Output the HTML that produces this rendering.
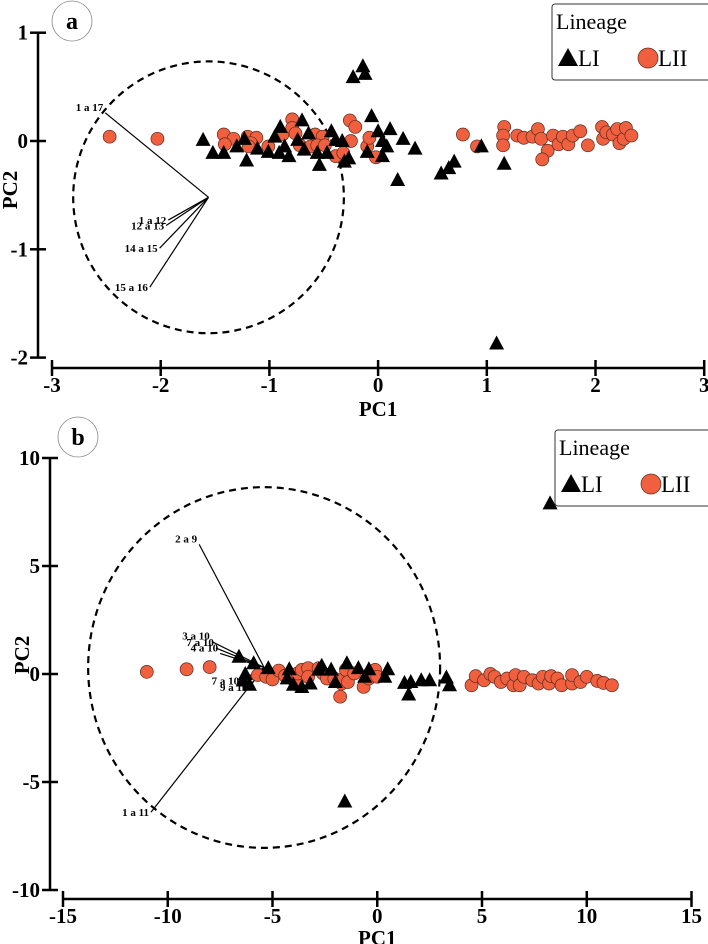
<!DOCTYPE html>
<html><head><meta charset="utf-8"><style>
html,body{margin:0;padding:0;background:#fff;}
svg{display:block;font-family:"Liberation Serif",serif;}
</style></head><body>
<svg id="chart" width="708" height="944" viewBox="0 0 708 944"></svg>
<script>
// ---------- Panel a data ----------
const aTicksX = [-3,-2,-1,0,1,2,3];
const aTicksY = [1,0,-1,-2];
const aLI_x = [-0.14,-0.23,-0.12,-0.06,0.11,0,0.23,0.34,0.08,0.04,0.04,-0.9,-0.7,-0.95,-1.61,-1.52,-1.42,-1.3,-1.21,-1.23,-1.11,-1.01,-0.91,-0.82,-0.86,-0.74,-0.68,-0.56,-0.54,-0.47,-0.43,-0.39,-0.33,-0.31,-0.27,-0.64,-0.1,0.18,0.58,0.65,0.7,0.95,1.16,1.09];
const aLI_y = [0.69,0.59,0.62,0.23,0.11,0.09,0.02,-0.07,-0.05,0,-0.14,0.13,0.19,0.04,0.01,-0.11,-0.11,-0.05,-0.18,0.02,-0.07,-0.1,-0.11,-0.14,-0.05,0.01,-0.08,-0.11,-0.22,-0.11,0.09,0.01,0,-0.19,-0.16,0.07,-0.1,-0.36,-0.3,-0.25,-0.19,-0.05,-0.21,-1.87];
const aLII_x = [-2.47,-2.03,-1.42,-1.33,-1.41,-1.2,-1.12,-1.17,-1.19,-1.01,-0.88,-0.79,-0.79,-0.76,-0.72,-0.62,-0.58,-0.51,-0.56,-0.49,-0.39,-0.32,-0.26,-0.21,-0.25,-0.1,-0.08,-0.02,0.78,0.91,1.16,1.15,1.15,1.28,1.34,1.42,1.47,1.5,1.56,1.51,1.61,1.66,1.7,1.75,1.79,1.86,1.93,2.06,2.07,2.1,2.16,2.2,2.22,2.26,2.28,2.33];
const aLII_y = [0.04,0.02,0.06,0.02,-0.03,0.04,0.03,-0.02,-0.05,-0.05,0.06,0.2,0.12,0.07,-0.04,-0.05,0.06,0.04,-0.04,-0.04,-0.14,-0.11,0.19,0.13,0,-0.05,0.03,-0.15,0.06,-0.05,0.13,0.05,-0.04,0.05,0.03,0.04,0.11,0.02,-0.09,-0.17,0.05,-0.03,0.04,-0.03,0.05,0.09,-0.04,0.13,0.02,0.08,0.06,0.11,-0.02,0.02,0.12,0.05];
const aVecLabels = ["1 a 17","1 a 12","12 a 13","14 a 15","15 a 16"];
const aVecX = [-2.51,-1.93,-1.95,-2.01,-2.1];
const aVecY = [0.26,-0.73,-0.78,-0.99,-1.35];
const aOrigin = [-1.56,-0.52];
const aCircle = [1.245,1.255];

// ---------- Panel b data ----------
const bTicksX = [-15,-10,-5,0,5,10,15];
const bTicksY = [10,5,0,-5,-10];
const bLI_x = [8.25,-1.55,-6.6,-5.9,-5.2,-6.3,-6.4,-6.1,-4.2,-4.3,-4,-3.6,-3.2,-2.8,-2.65,-2.2,-2,-1.45,-0.9,-0.6,-0.4,0.5,0.36,1.3,1.6,1.5,2.1,2.5,3.3,3.45];
const bLI_y = [7.9,-5.9,0.8,0.5,0.27,0,-0.3,-0.5,0.22,-0.2,-0.5,-0.6,-0.44,0.2,0.38,0.2,-0.37,0.5,0.27,-0.13,0.22,0.22,-0.13,-0.41,-0.37,-0.95,-0.29,-0.29,-0.16,-0.52];
const bLII_x = [-11,-9.1,-8,-5.7,-5.3,-5,-4.7,-4.4,-3.9,-3.8,-3.6,-3.3,-3.3,-2.8,-2.6,-2.4,-2.05,-1.77,-1.7,-1.6,-1.5,-1.4,-1.1,-0.65,-0.4,-0.1,0,4.5,4.7,5.1,5.4,5.6,5.9,6.2,6.5,6.6,6.8,7,7.4,7.7,7.9,8.2,8.3,8.6,8.8,9.3,9.3,9.7,10,10.5,10.8,11.2];
const bLII_y = [0.1,0.22,0.32,-0.05,-0.13,-0.25,0.16,-0.08,-0.44,0.03,0.19,0.27,-0.13,0.27,0.03,-0.21,-0.21,-1.05,-0.44,-0.21,0.19,-0.37,0.03,-0.6,-0.21,0.19,-0.13,-0.52,-0.1,-0.29,0,-0.13,-0.37,-0.21,-0.52,-0.05,-0.52,-0.13,-0.29,-0.44,-0.13,-0.44,-0.1,-0.21,-0.52,-0.44,-0.05,-0.37,-0.13,-0.32,-0.41,-0.52];
const bVecLabels = ["2 a 9","3 a 10","7 a 10","4 a 10","7 a 10","9 a 10","1 a 11"];
const bVecX = [-8.5,-7.9,-7.7,-7.5,-6.5,-6.1,-10.8];
const bVecY = [6.0,1.5,1.2,0.95,-0.3,-0.6,-6.4];
const bOrigin = [-5.4,0.3];
const bCircle = [8.4,8.35];

const NS = "http://www.w3.org/2000/svg";
const svg = document.getElementById('chart');
function mk(tag, attrs, parent, text){
  const e = document.createElementNS(NS, tag);
  for (const k in attrs) e.setAttribute(k, attrs[k]);
  if (text !== undefined) e.textContent = text;
  (parent||svg).appendChild(e);
  return e;
}

function panel(p){
  const g = mk('g', {});
  
  
  const X = v => p.x0 + (v - p.xmin) * p.sx;
  const Y = v => p.y0 - v * p.sy;
  const ya = mk('g', {}, g);
  
  
  const yt = p.ticksY;
  mk('line', {x1:p.yAxisX, x2:p.yAxisX, y1:Y(yt[0]), y2:Y(yt[yt.length-1]), stroke:'#000','stroke-width':2.5}, ya);
  yt.forEach(t => {
    mk('line', {x1:p.yAxisX-8, x2:p.yAxisX+8, y1:Y(t), y2:Y(t), stroke:'#000','stroke-width':2.5}, ya);
    const tl = mk('text', {x:p.yAxisX-10, y:Y(t)+7, 'text-anchor':'end','font-size':21,'font-weight':'bold'}, ya, String(t));
    
    
  });
  const xa = mk('g', {}, g);
  
  
  const xt = p.ticksX;
  mk('line', {x1:X(xt[0]), x2:X(xt[xt.length-1]), y1:p.xAxisY, y2:p.xAxisY, stroke:'#000','stroke-width':2.5}, xa);
  xt.forEach(t => {
    mk('line', {x1:X(t), x2:X(t), y1:p.xAxisY-8, y2:p.xAxisY+8, stroke:'#000','stroke-width':2.5}, xa);
    const tl = mk('text', {x:X(t), y:p.xAxisY+24, 'text-anchor':'middle','font-size':21,'font-weight':'bold'}, xa, String(t));
    
    
  });
  const xl = mk('text', {x:X(0), y:p.xAxisY+p.titleOff, 'text-anchor':'middle','font-size':21,'font-weight':'bold'}, g, 'PC1');
  
  
  const yl = mk('text', {x:0, y:0, transform:`translate(${p.yAxisX-21},${p.yTitleY}) rotate(-90)`, 'text-anchor':'middle','font-size':21,'font-weight':'bold'}, g, 'PC2');
  
  
  const pl = mk('circle', {cx:p.letterX, cy:p.letterY, r:20, fill:'#fff', stroke:'#888','stroke-width':0.8}, g);
  
  
  const pt = mk('text', {x:p.letterX, y:p.letterY+8, 'text-anchor':'middle','font-size':24,'font-weight':'bold'}, g, p.name);
  
  
  const cx = X(p.origin[0]), cy = Y(p.origin[1]);
  const el = mk('ellipse', {cx:cx, cy:cy, rx:p.circle[0]*p.sx, ry:p.circle[1]*p.sy, fill:'none', stroke:'#000','stroke-width':2.2,'stroke-dasharray':'7,5'}, g);
  
  
  p.vecX.forEach((vx,i) => {
    const ln = mk('line', {x1:cx, y1:cy, x2:X(vx), y2:Y(p.vecY[i]), stroke:'#000','stroke-width':1.2}, g);
    
    
    const lb = mk('text', {x:X(vx)-2, y:Y(p.vecY[i])+(p.vecY[i]>p.origin[1]?-2:4), 'text-anchor':'end','font-size':11,'font-weight':'bold'}, g, p.vecLabels[i]);
    
    
  });
  p.liiX.forEach((vx,i) => {
    const c = mk('circle', {cx:X(vx), cy:Y(p.liiY[i]), r:6.5, fill:'#f0603f', stroke:'#5a2a20','stroke-width':0.7}, g);
    
    
  });
  p.liX.forEach((vx,i) => {
    const px = X(vx), py = Y(p.liY[i]);
    const t = mk('polygon', {points:`${px},${py-8} ${px-7.5},${py+6} ${px+7.5},${py+6}`, fill:'#000'}, g);
    
    
  });
  const lg = mk('g', {}, g);
  
  
  mk('rect', {x:p.legX, y:p.legY, width:160, height:76, rx:3, fill:'#fff', stroke:'#333','stroke-width':1}, lg);
  mk('text', {x:p.legX+4, y:p.legY+25, 'font-size':22}, lg, 'Lineage');
  const lx = p.legX+16, ly = p.legY+54;
  const lt = mk('polygon', {points:`${lx},${ly-10} ${lx-10},${ly+8} ${lx+10},${ly+8}`, fill:'#000'}, lg);
  
  
  mk('text', {x:lx+10, y:ly+8, 'font-size':23}, lg, 'LI');
  const lc = mk('circle', {cx:lx+80, cy:ly, r:10, fill:'#f0603f', stroke:'#5a2a20','stroke-width':0.7}, lg);
  
  
  mk('text', {x:lx+90, y:ly+8, 'font-size':23}, lg, 'LII');
}

panel({name:'a', x0:52, xmin:-3, sx:108.7, y0:141, sy:108.3, ticksX:aTicksX, ticksY:aTicksY,
  yAxisX:38, xAxisY:368, titleOff:48, yTitleY:190, letterX:72, letterY:21,
  origin:aOrigin, circle:aCircle, vecX:aVecX, vecY:aVecY, vecLabels:aVecLabels,
  liX:aLI_x, liY:aLI_y, liiX:aLII_x, liiY:aLII_y, legX:552, legY:4});
panel({name:'b', x0:63, xmin:-15, sx:20.95, y0:674, sy:21.6, ticksX:bTicksX, ticksY:bTicksY,
  yAxisX:50, xAxisY:899, titleOff:46, yTitleY:655, letterX:78, letterY:437,
  origin:bOrigin, circle:bCircle, vecX:bVecX, vecY:bVecY, vecLabels:bVecLabels,
  liX:bLI_x, liY:bLI_y, liiX:bLII_x, liiY:bLII_y, legX:555, legY:430});
</script>
</body></html>
